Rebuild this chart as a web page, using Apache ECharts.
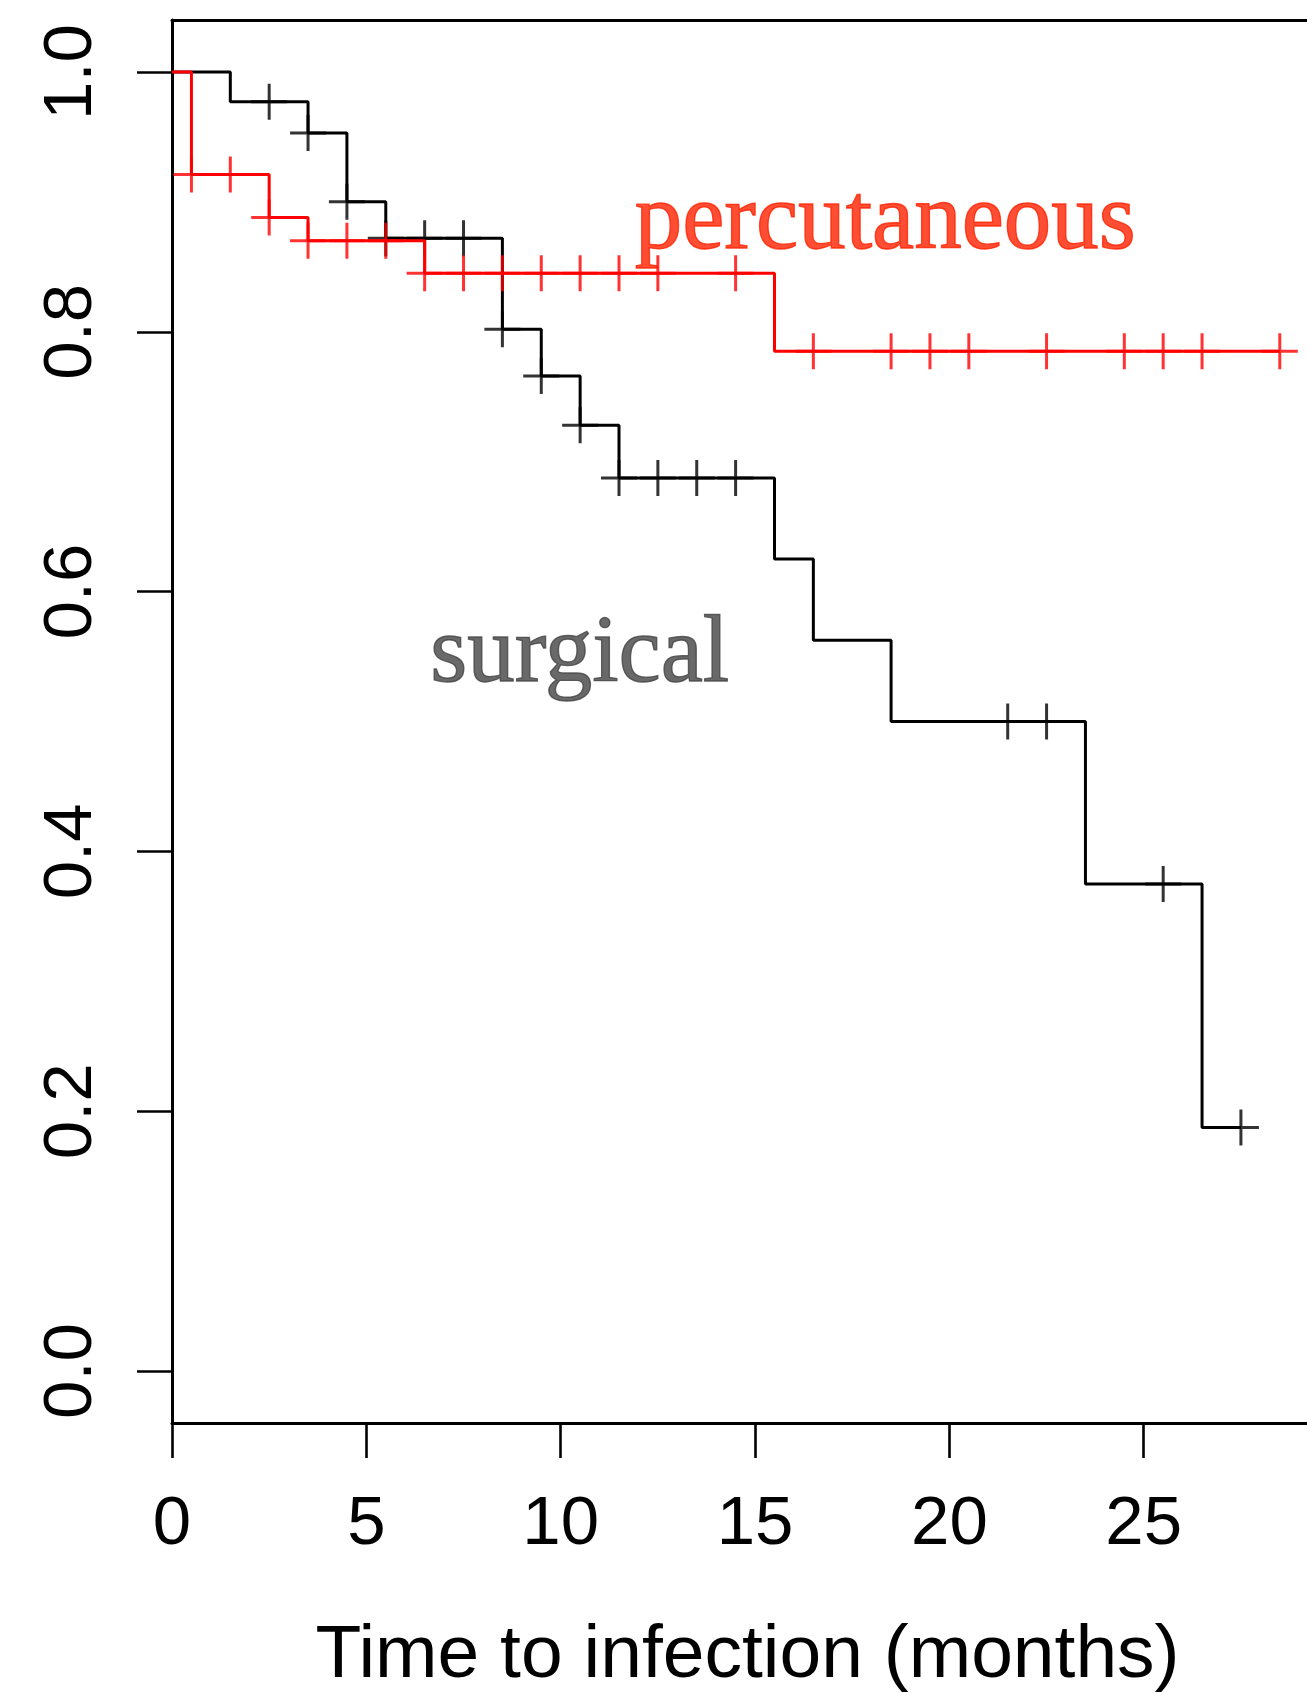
<!DOCTYPE html>
<html>
<head>
<meta charset="utf-8">
<script src="https://cdn.jsdelivr.net/npm/echarts@6/dist/echarts.min.js"></script>
<style>
  html, body { margin: 0; padding: 0; background: #fff; }
  #km { width: 1307px; height: 1693px; }
</style>
</head>
<body>
<div id="km"></div>
<script>
// surgical group (black): time of each drop, survival after it
var surgTimes = [0, 1.5, 3.5, 4.5, 5.5, 8.5, 9.5, 10.5, 11.5, 15.5, 16.5, 18.5, 23.5, 26.5];
var surgSurv  = [1, 0.977, 0.953, 0.900, 0.872, 0.802, 0.766, 0.728, 0.6875, 0.625, 0.5625, 0.5, 0.375, 0.1875];
var surgEnd = 27.5;
var surgCensor = [2.5, 3.5, 4.5, 5.5, 6.5, 7.5, 8.5, 9.5, 10.5, 11.5, 12.5, 13.5, 14.5, 21.5, 22.5, 25.5, 27.5];

// percutaneous group (red)
var percTimes = [0, 0.5, 2.5, 3.5, 6.5, 15.5];
var percSurv  = [1, 0.921, 0.888, 0.870, 0.845, 0.785];
var percEnd = 28.5;
var percCensor = [0.5, 1.5, 2.5, 3.5, 4.5, 5.5, 6.5, 7.5, 8.5, 9.5, 10.5, 11.5, 12.5, 14.5,
                  16.5, 18.5, 19.5, 20.5, 22.5, 24.5, 25.5, 26.5, 28.5];

var xTicks = [0, 5, 10, 15, 20, 25];
var yTicks = [0, 0.2, 0.4, 0.6, 0.8, 1.0];

// group names written on the plot, at data coords
var groupNames = ['percutaneous', 'surgical'];
var nameSpots = [[18.35, 0.8836], [10.49, 0.5505]];

function stepData(times, surv, end) {
  var d = times.map(function (t, i) { return [t, surv[i]]; });
  d.push([end, surv[surv.length - 1]]);
  return d;
}
// value of the curve at t (right continuous)
function survAt(times, surv, t) {
  var s = surv[0];
  for (var i = 0; i < times.length; i++) {
    if (times[i] <= t) s = surv[i];
  }
  return s;
}
function censorData(times, surv, cens) {
  return cens.map(function (t) { return [t, survAt(times, surv, t)]; });
}

var plus = 'path://M5,0L5,10M0,5L10,5';
var lw = 3;
var nameColors = ['#ff2200', '#444444'];

var chart = echarts.init(document.getElementById('km'));

chart.setOption({
  animation: false,
  backgroundColor: '#fff',
  grid: { left: 172, right: 0, top: 20, bottom: 270, outerBoundsMode: 'none' },
  xAxis: [{
    type: 'value',
    min: 0,
    max: 29.2,
    position: 'bottom',
    name: 'Time to infection (months)',
    nameLocation: 'middle',
    nameGap: 196,
    nameTextStyle: { fontFamily: 'Liberation Sans', fontSize: 75, color: '#000', padding: [0, 0, 0, 16] },
    axisLine: { show: true, onZero: false, lineStyle: { color: '#000', width: lw } },
    axisTick: { show: true, inside: false, length: 35, customValues: xTicks, lineStyle: { color: '#000', width: 2.6 } },
    axisLabel: {
      customValues: xTicks,
      margin: 67,
      fontFamily: 'Liberation Sans',
      fontSize: 69,
      color: '#000',
      formatter: function (v) { return String(v); }
    },
    splitLine: { show: false }
  }, {
    type: 'value',
    min: 0,
    max: 29.2,
    position: 'top',
    axisLine: { show: true, onZero: false, lineStyle: { color: '#000', width: lw } },
    axisTick: { show: false },
    axisLabel: { show: false },
    splitLine: { show: false }
  }],
  yAxis: {
    type: 'value',
    min: -0.04,
    max: 1.04,
    axisLine: { show: true, onZero: false, lineStyle: { color: '#000', width: lw } },
    axisTick: { show: true, length: 35, customValues: yTicks, lineStyle: { color: '#000', width: 2.6 } },
    axisLabel: {
      customValues: yTicks,
      rotate: 90,
      margin: 66,
      fontFamily: 'Liberation Sans',
      fontSize: 69,
      color: '#000',
      formatter: function (v) { return v.toFixed(1); }
    },
    splitLine: { show: false }
  },
  series: [
    {
      name: 'surgical',
      type: 'line',
      step: 'end',
      data: stepData(surgTimes, surgSurv, surgEnd),
      showSymbol: false,
      lineStyle: { color: '#000', width: lw },
      z: 2
    },
    {
      name: 'surgical censored',
      type: 'scatter',
      data: censorData(surgTimes, surgSurv, surgCensor),
      symbol: plus,
      symbolSize: 36,
      itemStyle: { color: '#000', borderColor: '#000', borderWidth: lw },
      z: 2
    },
    {
      name: 'percutaneous',
      type: 'line',
      step: 'end',
      data: stepData(percTimes, percSurv, percEnd),
      showSymbol: false,
      lineStyle: { color: '#ff0000', width: lw },
      z: 3
    },
    {
      name: 'percutaneous censored',
      type: 'scatter',
      data: censorData(percTimes, percSurv, percCensor),
      symbol: plus,
      symbolSize: 36,
      itemStyle: { color: '#ff0000', borderColor: '#ff0000', borderWidth: lw },
      z: 3
    },
    {
      name: 'group names',
      type: 'scatter',
      symbolSize: 0,
      data: nameSpots.map(function (p, i) {
        return {
          value: p,
          label: {
            show: true,
            position: 'inside',
            formatter: groupNames[i],
            fontFamily: 'Liberation Serif',
            fontSize: 95,
            color: nameColors[i],
            textBorderColor: nameColors[i],
            textBorderWidth: 1.4
          }
        };
      }),
      z: 4
    }
  ]
});
</script>
</body>
</html>
